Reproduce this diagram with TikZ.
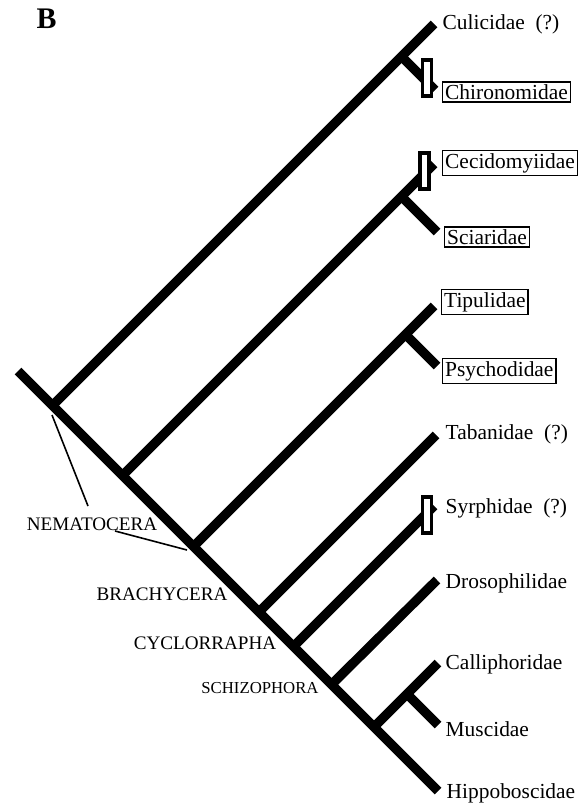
\documentclass[tikz,border=0pt]{standalone}
\usepackage{fontspec}
\setmainfont{Liberation Serif}
\begin{document}
\begin{tikzpicture}[x=1bp,y=-1bp,
  branch/.style={line width=9.5bp,line cap=butt},
  pointer/.style={line width=1.6bp},
  taxon/.style={anchor=west,inner sep=2.5bp,font=\fontsize{21.5}{23}\selectfont},
  boxed/.style={taxon,draw,line width=1.4bp},
  grp/.style={inner sep=0pt,font=\fontsize{19.2}{21}\selectfont},
  charbox/.style={draw,fill=white,line width=3.2bp,minimum width=9bp,minimum height=36bp,inner sep=0pt}]
\useasboundingbox (0,0) rectangle (581,806);
% panel letter
\node[inner sep=0pt,font=\fontsize{30}{32}\selectfont\bfseries] (B) at (46.5,19) {B};
% junctions on trunk
\coordinate (root) at (18,371);
\coordinate (jCul) at (52.5,405.5);
\coordinate (jCec) at (122.5,475.5);
\coordinate (jTip) at (193.5,546.5);
\coordinate (jTab) at (259,612);
\coordinate (jSyr) at (293.5,646.5);
\coordinate (jDro) at (331.5,684.5);
\coordinate (jCal) at (374,727);
% branch ends
\coordinate (eCul) at (434,24);
\coordinate (eChi) at (435,90);
\coordinate (eCec) at (434,164);
\coordinate (eSci) at (437,232);
\coordinate (eTip) at (434,306);
\coordinate (ePsy) at (437,366);
\coordinate (eTab) at (436,435);
\coordinate (eSyr) at (434,506);
\coordinate (eDro) at (437,580);
\coordinate (eCal) at (438,663);
\coordinate (eMus) at (438,725);
\coordinate (eHip) at (438,791);
% sub-branch junctions
\coordinate (jChi) at (401.5,56.5);
\coordinate (jSci) at (401.5,196.5);
\coordinate (jPsy) at (405.5,334.5);
\coordinate (jMus) at (407,694);
% tree
\draw[branch] (root) -- (eHip);
\draw[branch] (jCul) -- (eCul);
\draw[branch] (jChi) -- (eChi);
\draw[branch] (jCec) -- (eCec);
\draw[branch] (jSci) -- (eSci);
\draw[branch] (jTip) -- (eTip);
\draw[branch] (jPsy) -- (ePsy);
\draw[branch] (jTab) -- (eTab);
\draw[branch] (jSyr) -- (eSyr);
\draw[branch] (jDro) -- (eDro);
\draw[branch] (jCal) -- (eCal);
\draw[branch] (jMus) -- (eMus);
% character marks
\node[charbox] (mChi) at (427,78) {};
\node[charbox] (mCec) at (424.5,171) {};
\node[charbox] (mSyr) at (427,515) {};
% taxon labels
\node[taxon] (Cul) at (440,24) {Culicidae\ \ (?)};
\node[boxed] (Chi) at (442,92) {Chironomidae};
\node[boxed] (Cec) at (442,163) {Cecidomyiidae};
\node[boxed] (Sci) at (444,237) {Sciaridae};
\node[boxed] (Tip) at (441,302) {Tipulidae};
\node[boxed] (Psy) at (442,371) {Psychodidae};
\node[taxon] (Tab) at (443,434) {Tabanidae\ \ (?)};
\node[taxon] (Syr) at (443,508) {Syrphidae\ \ (?)};
\node[taxon] (Dro) at (443,583) {Drosophilidae};
\node[taxon] (Cal) at (443,664) {Calliphoridae};
\node[taxon] (Mus) at (443,729) {Muscidae};
\node[taxon] (Hip) at (444,793) {Hippoboscidae};
% group labels
\node[grp] (Nem) at (92,524) {NEMATOCERA};
\node[grp] (Bra) at (162,594) {BRACHYCERA};
\node[grp] (Cyc) at (205,643) {CYCLORRAPHA};
\node[grp,font=\fontsize{16.8}{18}\selectfont] (Sch) at (260,688) {SCHIZOPHORA};
% pointers
\coordinate (pA) at (52,415);
\coordinate (pB) at (88,506);
\coordinate (pC) at (115,531);
\coordinate (pD) at (187,550);
\draw[pointer] (pA) -- (pB);
\draw[pointer] (pC) -- (pD);
\end{tikzpicture}
\end{document}
